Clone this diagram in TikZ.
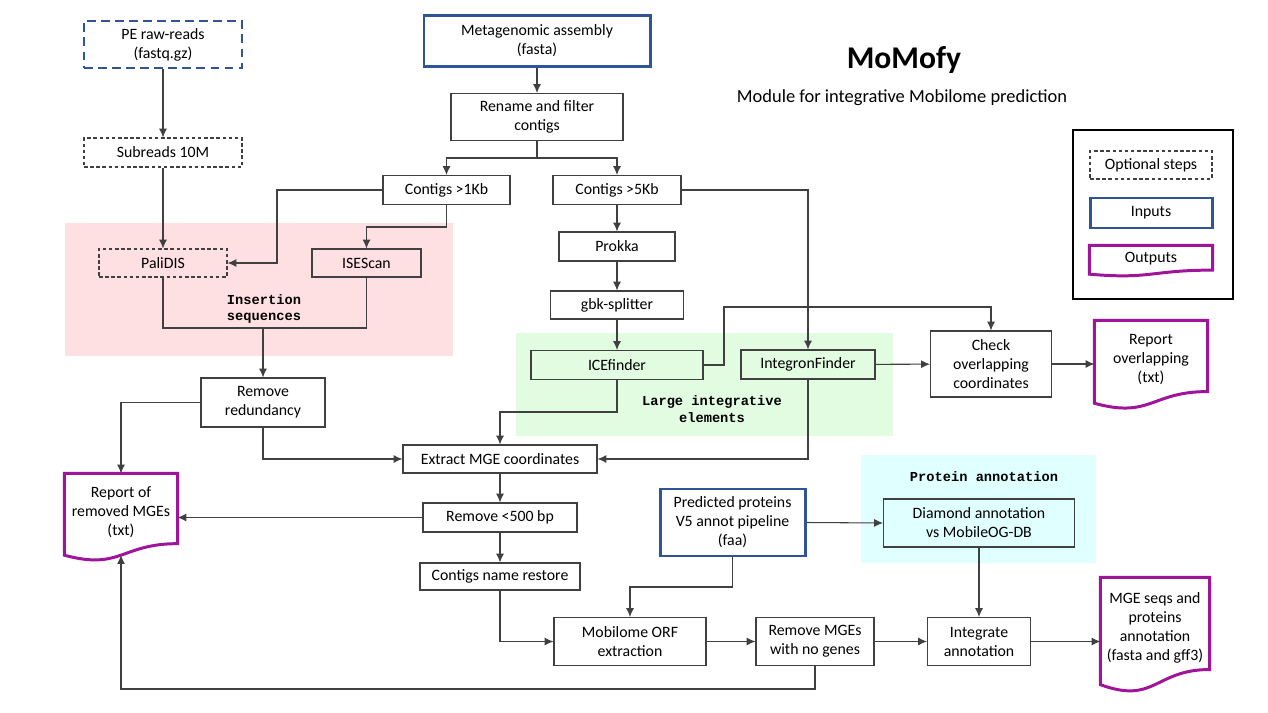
\documentclass[tikz,border=0pt]{standalone}
\usepackage{fontspec}
\setmainfont{Carlito}
\newfontfamily\labfont{Liberation Mono}
\usetikzlibrary{arrows.meta,calc,positioning}
\definecolor{inblue}{RGB}{47,85,151}
\definecolor{outmag}{RGB}{160,20,155}
\definecolor{lineg}{RGB}{64,64,64}
\definecolor{isbg}{RGB}{255,224,226}
\definecolor{largebg}{RGB}{226,252,226}
\definecolor{protbg}{RGB}{224,255,255}
\tikzset{%
	boxsize/.style 2 args = {minimum width=#1*0.02cm, minimum height=#2*0.02cm},
	process/.style    = {draw=lineg, line width=0.6pt, rectangle, fill=white, align=center, inner sep=1pt, font=\fontsize{9}{10.8}\selectfont},
	optional/.style   = {process, dash pattern=on 2pt off 1.5pt},
	inputbox/.style   = {process, draw=inblue, line width=1.7pt},
	optinput/.style   = {inputbox, dash pattern=on 5pt off 3pt},
	docbox/.style     = {process, draw=none, fill=none},
	grouplabel/.style = {font=\labfont\bfseries\fontsize{7.8}{9.5}\selectfont, align=center},
	arrow/.style      = {draw=lineg, line width=0.6pt, -{Latex[length=5pt,width=4.5pt]}},
	link/.style       = {draw=lineg, line width=0.6pt},
}
\newcommand{\docoutline}[1]{%
	\draw[outmag, line width=1.7pt] (#1.north west) -- (#1.north east) -- ($(#1.north east)!0.911!(#1.south east)$)
		.. controls ($(#1.north)!0.911!(#1.south)$) and ($(#1.north)!1.259!(#1.south)$) .. ($(#1.north west)!1.061!(#1.south west)$) -- cycle;}

\begin{document}
\begin{tikzpicture}[x=0.02cm,y=-0.02cm]
	\useasboundingbox (0,0) rectangle (1268,713);
	% shaded groups
	\fill[isbg] (65,223) rectangle (453,356);
	\fill[largebg] (516,333) rectangle (893,436);
	\fill[protbg] (861,455) rectangle (1096,563);
	\node[grouplabel] (islabel) at (264,309) {Insertion\\sequences};
	\node[grouplabel] (largelabel) at (712,409) {Large integrative\\elements};
	\node[grouplabel] (protlabel) at (984,477) {Protein annotation};
	% title
	\node[font=\bfseries\fontsize{18}{20}\selectfont] (title) at (904,60) {MoMofy};
	\node[font=\fontsize{10.5}{12}\selectfont] (subtitle) at (902,98) {Module for integrative Mobilome prediction};
	% steps
	\node[optinput, boxsize={158}{47}] (reads) at (163,44.5) {PE raw-reads\\(fastq.gz)};
	\node[optional, boxsize={158}{29}] (subreads) at (163,152.5) {Subreads 10M};
	\node[inputbox, boxsize={226}{51}] (assembly) at (537,41) {Metagenomic assembly\\(fasta)};
	\node[process, boxsize={172}{47}] (rename) at (537,117) {Rename and filter\\contigs};
	\node[process, boxsize={127}{29}] (contone) at (446.5,190) {Contigs >1Kb};
	\node[process, boxsize={128}{29}] (contfive) at (617,190) {Contigs >5Kb};
	\node[optional, fill=isbg, boxsize={128}{28}] (palidis) at (163,263) {PaliDIS};
	\node[process, fill=isbg, boxsize={109}{28}] (isescan) at (366.5,263) {ISEScan};
	\node[process, boxsize={116}{29}] (prokka) at (617,246.5) {Prokka};
	\node[process, boxsize={133}{28}] (gbk) at (617,305) {gbk-splitter};
	\node[process, fill=largebg, boxsize={172}{29}] (icefinder) at (617,365) {ICEfinder};
	\node[process, fill=largebg, boxsize={134}{29}] (integron) at (808,364.5) {IntegronFinder};
	\node[process, boxsize={121}{66}] (check) at (991,364) {Check\\overlapping\\coordinates};
	\node[docbox, boxsize={112}{77}] (overlap) at (1151,359.5) {Report\\overlapping\\(txt)};
	\node[process, boxsize={124}{49}] (redundancy) at (263,402.5) {Remove\\redundancy};
	\node[process, boxsize={194}{28}] (extract) at (500,459) {Extract MGE coordinates};
	\node[docbox, boxsize={112}{76}] (removed) at (121,512) {Report of\\removed MGEs\\(txt)};
	\node[process, boxsize={154}{29}] (short) at (500,517.5) {Remove <500 bp};
	\node[process, boxsize={160}{27}] (restore) at (500,576.5) {Contigs name restore};
	\node[inputbox, boxsize={145}{67}] (proteins) at (732.5,522.5) {Predicted proteins\\V5 annot pipeline\\(faa)};
	\node[process, fill=protbg, boxsize={191}{48}] (diamond) at (979,523) {Diamond annotation\\vs MobileOG-DB};
	\node[process, boxsize={152}{48}] (orf) at (630,641.5) {Mobilome ORF\\extraction};
	\node[process, boxsize={118}{48}] (nogenes) at (815,641.5) {Remove MGEs\\with no genes};
	\node[process, boxsize={103}{48}] (integrate) at (979,641.5) {Integrate\\annotation};
	\node[docbox, boxsize={108}{100}] (mgeseqs) at (1155,628) {MGE seqs and\\proteins\\annotation\\(fasta and gff3)};
	% legend
	\node[draw=black, line width=0.6pt, boxsize={160}{169}] (legend) at (1153,214.5) {};
	\node[optional, boxsize={122}{28}] (legopt) at (1151,165) {Optional steps};
	\node[inputbox, boxsize={122}{30}] (leginp) at (1151,213) {Inputs};
	\node[docbox, boxsize={122}{26}] (legout) at (1151,259) {Outputs};
	\foreach \d in {overlap,removed,mgeseqs,legout} {\docoutline{\d}}
	\coordinate (removedbot) at ($(removed.north)!1.06!(removed.south)$);
	% connectors
	\draw[arrow] (reads) -- (subreads);
	\draw[arrow] (subreads) -- (palidis);
	\draw[arrow] (assembly) -- (rename);
	\coordinate (split) at (537,158);
	\draw[link] (rename.south) -- (split);
	\draw[arrow] (split) -| (contone.north);
	\draw[arrow] (split) -| (contfive.north);
	\draw[arrow] (contone.west) -| (palidis.east -| 277,0) -- (palidis.east);
	\draw[arrow] (contone.south) -- (contone.south |- 0,227) -| (isescan.north);
	\coordinate (isjoin) at (263,328);
	\draw[link] (palidis.south) |- (isjoin) -| (isescan.south);
	\draw[arrow] (isjoin) -- (redundancy.north);
	\draw[arrow] (redundancy.west) -| (removed.north);
	\draw[arrow] (redundancy.south) |- (extract.west);
	\draw[arrow] (contfive) -- (prokka);
	\draw[arrow] (prokka) -- (gbk);
	\draw[arrow] (gbk) -- (icefinder);
	\draw[arrow] (contfive.east) -| (integron.north);
	\draw[arrow] (icefinder.east) -| (724,307) -| (check.north);
	\draw[arrow] (icefinder.south) |- (extract.north |- 0,412) -- (extract.north);
	\draw[arrow] (integron.south) |- (extract.east);
	\draw[arrow] (integron) -- (check);
	\draw[arrow] (check.east) -- (check.east -| overlap.west);
	\draw[arrow] (extract) -- (short);
	\draw[arrow] (short.west) -- (short.west -| removed.east);
	\draw[arrow] (short) -- (restore);
	\draw[arrow] (restore.south) |- (orf.west);
	\draw[arrow] (proteins.south) |- (orf.north |- 0,587) -- (orf.north);
	\draw[arrow] (proteins.east) -- (diamond.west);
	\draw[arrow] (orf) -- (nogenes);
	\draw[arrow] (nogenes) -- (integrate);
	\draw[arrow] (diamond) -- (integrate);
	\draw[arrow] (integrate.east) -- (integrate.east -| mgeseqs.west);
	\draw[arrow] (nogenes.south) |- (removedbot |- 0,689) -- (removedbot);
\end{tikzpicture}
\end{document}
